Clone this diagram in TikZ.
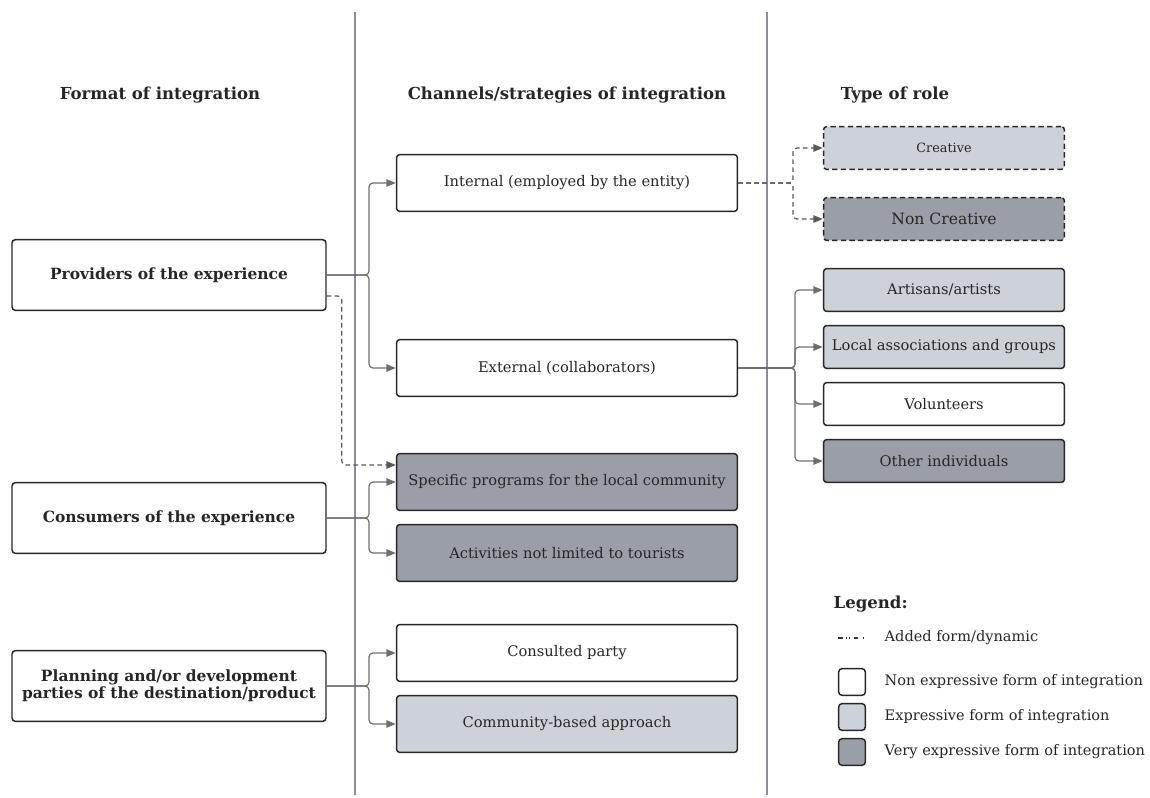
\documentclass[tikz,border=0pt]{standalone}
\usepackage{fontspec}
\setmainfont{DejaVu Serif}
\usetikzlibrary{arrows.meta}

\definecolor{lightrole}{HTML}{CDD2D9}
\definecolor{darkrole}{HTML}{9A9EA7}
\definecolor{sepline}{HTML}{8A8E96}
\definecolor{linkgray}{HTML}{6E6E6E}

\tikzset{
  box/.style={draw=black!85, rounded corners=2.5pt, line width=1.1pt, align=center,
    text=black!85, font=\fontsize{11}{13}\selectfont, inner sep=2pt},
  fmtbox/.style={box, minimum width=235.5pt, minimum height=53pt,
    font=\bfseries\fontsize{11.6}{13}\selectfont},
  chanbox/.style={box, minimum width=255.7pt, minimum height=42.7pt},
  rolebox/.style={box, minimum width=180.7pt, minimum height=32.2pt},
  keybox/.style={box, minimum width=20pt, minimum height=20pt},
  light/.style={fill=lightrole},
  dark/.style={fill=darkrole},
  addedbox/.style={dashed, dash pattern=on 4pt off 2.5pt},
  head/.style={font=\bfseries\fontsize{12.4}{14}\selectfont, text=black!85},
  keytext/.style={anchor=west, font=\fontsize{10.9}{13}\selectfont, text=black!85},
  link/.style={draw=linkgray, line width=0.9pt, rounded corners=3pt,
    -{Triangle[length=7pt,width=5.5pt]}},
  added/.style={link, draw=black!65, dash pattern=on 3.5pt off 2.5pt,
    -{Triangle[length=7pt,width=5.5pt]}}
}

\begin{document}
\begin{tikzpicture}[x=0.75pt, y=-0.75pt]
\useasboundingbox (0,0) rectangle (1150,797);

% column separators
\draw[sepline, line width=1.3pt] (355,12) -- (355,795);
\draw[sepline, line width=1.3pt] (767,12) -- (767,795);

\node[head] (h1) at (160,95) {Format of integration};
\node[head] (h2) at (567,95) {Channels/strategies of integration};
\node[head] (h3) at (895,95) {Type of role};

% format of integration
\node[fmtbox] (prov) at (169,275) {Providers of the experience};
\node[fmtbox] (cons) at (169,518) {Consumers of the experience};
\node[fmtbox] (plan) at (169,686) {Planning and/or development\\parties of the destination/product};

% channels / strategies
\node[chanbox] (int) at (567,183) {Internal (employed by the entity)};
\node[chanbox] (ext) at (567,368) {External (collaborators)};
\node[chanbox, dark] (spec) at (567,482) {Specific programs for the local community};
\node[chanbox, dark] (act) at (567,553) {Activities not limited to tourists};
\node[chanbox] (cons2) at (567,653) {Consulted party};
\node[chanbox, light] (comm) at (567,724) {Community-based approach};

% type of role
\node[rolebox, light, addedbox, font=\fontsize{9.6}{11}\selectfont] (cre) at (944,148) {Creative};
\node[rolebox, dark, addedbox, font=\fontsize{11.7}{13}\selectfont] (noncre) at (944,219) {Non Creative};
\node[rolebox, light] (art) at (944,290) {Artisans/artists};
\node[rolebox, light] (loc) at (944,347) {Local associations and groups};
\node[rolebox] (vol) at (944,404) {Volunteers};
\node[rolebox, dark] (oth) at (944,461) {Other individuals};

% junctions
\coordinate (j1) at (369,275);
\coordinate (j2) at (369,518);
\coordinate (j3) at (369,686);
\coordinate (j4) at (793,183);
\coordinate (j5) at (795,368);

\draw[link] (prov.east) -- (j1) |- (int.west);
\draw[link] (prov.east) -- (j1) |- (ext.west);
\draw[link] (cons.east) -- (j2) |- (spec.west);
\draw[link] (cons.east) -- (j2) |- (act.west);
\draw[link] (plan.east) -- (j3) |- (cons2.west);
\draw[link] (plan.east) -- (j3) |- (comm.west);
\draw[link] (ext.east) -- (j5) |- (art.west);
\draw[link] (ext.east) -- (j5) |- (loc.west);
\draw[link] (ext.east) -- (j5) |- (vol.west);
\draw[link] (ext.east) -- (j5) |- (oth.west);

% added forms
\draw[added] ([yshift=-15.75pt]prov.east) -- ++(15,0) |- ([yshift=12.75pt]spec.west);
\draw[added] (int.east) -- (j4) |- (cre.west);
\draw[added] (int.east) -- (j4) |- (noncre.west);

% legend
\node[head, anchor=west] (leg) at (829,604) {Legend:};
\coordinate (k0) at (838,638);
\coordinate (k1) at (863,638);
\draw[black!80, line width=1.1pt, dash pattern=on 3.5pt off 2.5pt on 0.8pt off 1.6pt on 0.8pt off 2.5pt on 3.5pt] (k0) -- (k1);
\node[keytext] (t0) at (880,638) {Added form/dynamic};
\node[keybox] (k2) at (852,682) {};
\node[keybox, light] (k3) at (852,717) {};
\node[keybox, dark] (k4) at (852,752) {};
\node[keytext] (t2) at (880,682) {Non expressive form of integration};
\node[keytext] (t3) at (880,717) {Expressive form of integration};
\node[keytext] (t4) at (880,752) {Very expressive form of integration};
\end{tikzpicture}
\end{document}
